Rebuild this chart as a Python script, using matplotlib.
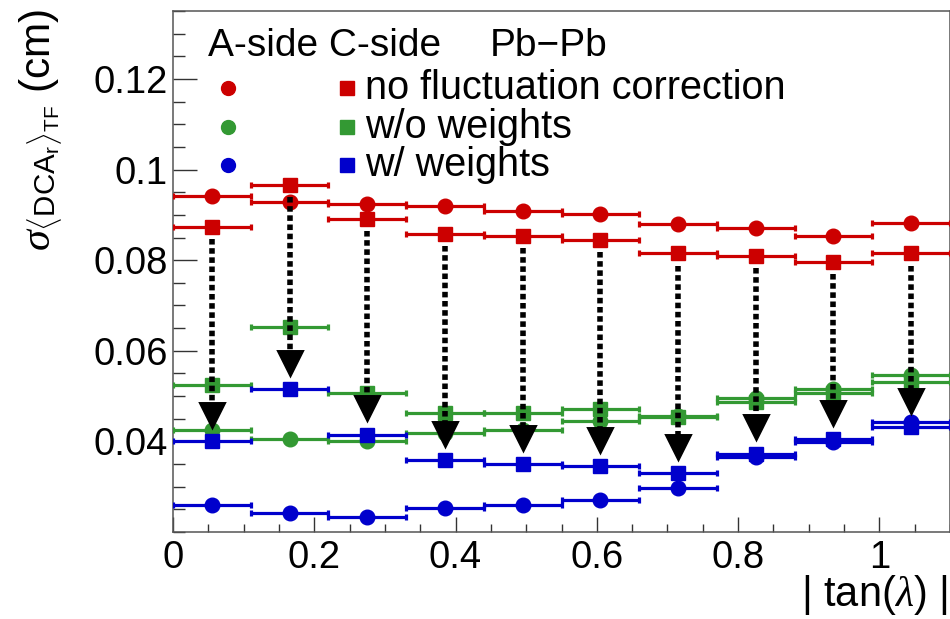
import numpy as np
import matplotlib
matplotlib.use('Agg')
import matplotlib.pyplot as plt
from matplotlib.ticker import MultipleLocator

plt.rcParams['font.family'] = ['Liberation Sans', 'DejaVu Sans']
plt.rcParams['mathtext.fontset'] = 'custom'
plt.rcParams['mathtext.rm'] = 'Liberation Sans'
plt.rcParams['mathtext.it'] = 'Liberation Serif:italic'
plt.rcParams['mathtext.bf'] = 'Liberation Sans:bold'

# |tan(lambda)| bins
tanl_edges = [0.0, 0.11, 0.22, 0.33, 0.44, 0.55, 0.66, 0.77, 0.88, 0.99, 1.10]

# sigma of <DCA_r>_TF (cm); A-side = circles, C-side = squares
a_nocorr = [0.0942, 0.0928, 0.0925, 0.0919, 0.0909, 0.0901, 0.0879, 0.0870, 0.0853, 0.0883]
c_nocorr = [0.0874, 0.0967, 0.0891, 0.0858, 0.0854, 0.0845, 0.0815, 0.0810, 0.0796, 0.0815]
a_nowt = [0.0425, 0.0406, 0.0401, 0.0419, 0.0425, 0.0445, 0.0455, 0.0495, 0.0515, 0.0547]
c_nowt = [0.0524, 0.0652, 0.0506, 0.0463, 0.0462, 0.0471, 0.0453, 0.0488, 0.0506, 0.0530]
a_wt = [0.0260, 0.0242, 0.0233, 0.0254, 0.0259, 0.0271, 0.0298, 0.0366, 0.0399, 0.0443]
c_wt = [0.0401, 0.0515, 0.0415, 0.0358, 0.0349, 0.0346, 0.0330, 0.0373, 0.0405, 0.0431]

labels = ['no fluctuation correction', 'w/o weights', 'w/ weights']
colors = ['#cc0000', '#339933', '#0000cc']

W, H = 950, 619


def fx(x):
    return x / W


def fy(y):
    return 1 - y / H


edges = np.array(tanl_edges)
centers = 0.5 * (edges[1:] + edges[:-1])
half = 0.5 * (edges[1:] - edges[:-1])

fig = plt.figure(figsize=(W / 100, H / 100), dpi=100)
ax = fig.add_axes([fx(173), fy(532), fx(950 - 173), (532 - 11) / H])

series = [(a_nocorr, c_nocorr), (a_nowt, c_nowt), (a_wt, c_wt)]
for (a_vals, c_vals), col in zip(series, colors):
    ax.errorbar(centers, a_vals, xerr=half, fmt='o', ms=10.5, color=col,
                mec=col, lw=2.3, capsize=2.5, capthick=2.3, zorder=3)
    ax.errorbar(centers, c_vals, xerr=half, fmt='s', ms=10, color=col,
                mec=col, lw=2.3, capsize=2.5, capthick=2.3, zorder=3)

# arrows from C-side (no correction) to C-side (w/ weights)
tri = [(0, 0), (-0.5, 1), (0.5, 1), (0, 0)]
for x, top, bot in zip(centers, c_nocorr, c_wt):
    y0 = top - 0.0027
    y1 = bot + 0.0025
    ax.plot([x, x], [y0, y1 + 0.004], color='k', lw=4.0,
            ls=(0, (1.0, 0.65)), zorder=5)
    ax.plot([x], [y1], marker=tri, ms=41, color='k', mec='k', mew=0, zorder=6)

ax.set_xlim(0, 1.1)
ax.set_ylim(0.02, 0.135)
ax.xaxis.set_major_locator(MultipleLocator(0.2))
ax.xaxis.set_minor_locator(MultipleLocator(0.05))
ax.yaxis.set_major_locator(MultipleLocator(0.02))
ax.yaxis.set_minor_locator(MultipleLocator(0.005))
ax.set_xticks([0, 0.2, 0.4, 0.6, 0.8, 1.0])
ax.set_xticklabels(['0', '0.2', '0.4', '0.6', '0.8', '1'])
ax.set_yticks([0.04, 0.06, 0.08, 0.1, 0.12])
ax.set_yticklabels(['0.04', '0.06', '0.08', '0.1', '0.12'])

ax.tick_params(axis='both', which='both', direction='in', width=1.0,
               color='#333333', labelsize=27.5)
ax.tick_params(axis='y', which='major', length=17, pad=4)
ax.tick_params(axis='y', which='minor', length=8.5)
ax.tick_params(axis='x', which='major', length=11, pad=6)
ax.tick_params(axis='x', which='minor', length=5.5)
for sp in ax.spines.values():
    sp.set_color('#555555')
    sp.set_linewidth(1.1)

# axis titles
fig.text(fx(18), fy(9), r'$\sigma_{\langle \mathrm{DCA}_{\mathrm{r}}\rangle_{\mathrm{TF}}}$ (cm)',
         rotation=90, ha='left', va='top', fontsize=30.5)
fig.text(fx(948), fy(606), r'| tan($\lambda$) |', ha='right', va='baseline', fontsize=30)

# legend
fig.text(fx(208), fy(46), 'A-side C-side', ha='left', va='center', fontsize=28)
fig.text(fx(490), fy(46), 'Pb\u2212Pb', ha='left', va='center', fontsize=28)
for i, (lab, col) in enumerate(zip(labels, colors)):
    yy = 88 + 38.5 * i
    fig.lines.append(plt.Line2D([fx(228)], [fy(yy)], marker='o', ms=10,
                                color=col, mec=col, transform=fig.transFigure))
    fig.lines.append(plt.Line2D([fx(347)], [fy(yy)], marker='s', ms=9.5,
                                color=col, mec=col, transform=fig.transFigure))
    fig.text(fx(365), fy(yy), lab, ha='left', va='center', fontsize=28.5)

fig.savefig('out.png', dpi=100)
